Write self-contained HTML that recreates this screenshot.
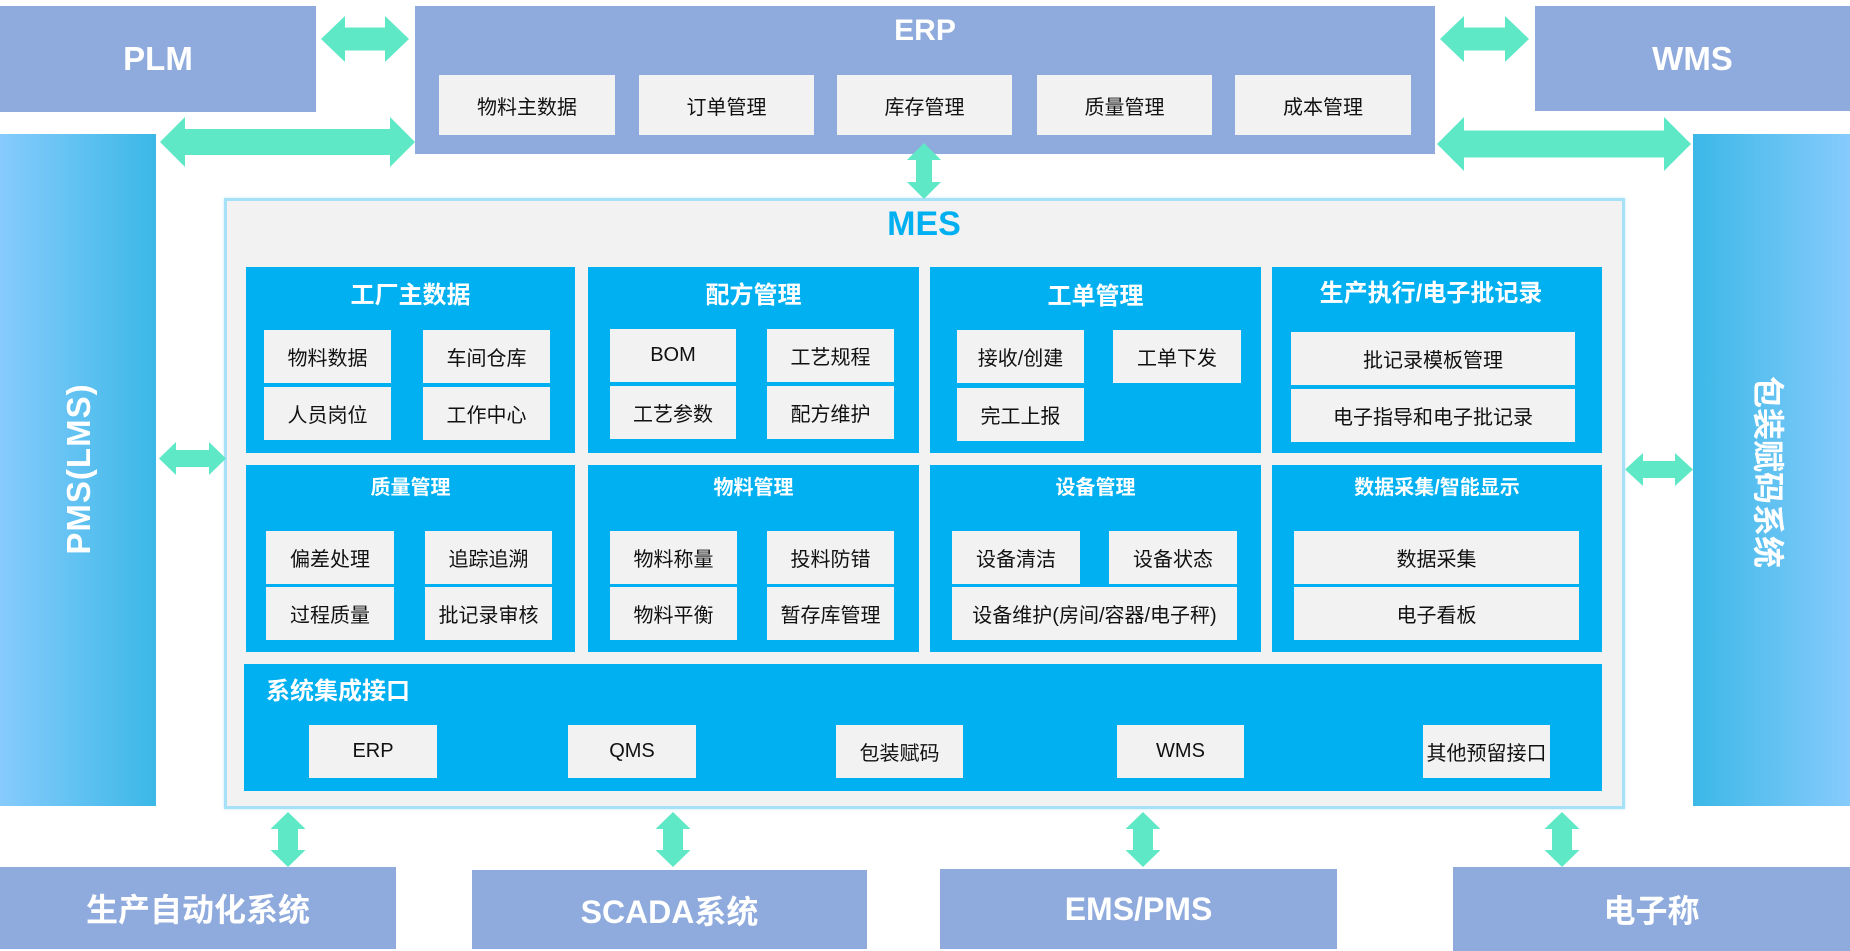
<!DOCTYPE html>
<html><head><meta charset="utf-8">
<style>
*{margin:0;padding:0;box-sizing:border-box;}
html,body{width:1850px;height:951px;background:#fff;overflow:hidden;}
body{position:relative;font-family:"Liberation Sans","Noto Sans CJK SC",sans-serif;}
.b{position:absolute;display:flex;align-items:center;justify-content:center;white-space:nowrap;}
.per{background:#8faadc;color:#fff;font-weight:700;}
.mod{background:#00b0f0;}
.s{background:#f2f2f2;color:#111;font-size:20px;}
.t1{position:absolute;color:#fff;font-weight:700;font-size:24px;text-align:center;white-space:nowrap;}
.t2{position:absolute;color:#fff;font-weight:700;font-size:20px;text-align:center;white-space:nowrap;}
</style></head><body>

<!-- top boxes -->
<div class="b per" style="left:0;top:6px;width:316px;height:106px;font-size:33px;">PLM</div>
<div class="b per" style="left:1535px;top:6px;width:315px;height:105px;font-size:33px;">WMS</div>
<div class="per" style="position:absolute;left:415px;top:6px;width:1020px;height:148px;"></div>
<div class="b" style="left:415px;top:11px;width:1020px;height:40px;color:#fff;font-weight:700;font-size:30px;">ERP</div>
<div class="b s" style="left:439px;top:75px;width:176px;height:60px;">物料主数据</div>
<div class="b s" style="left:639px;top:75px;width:175px;height:60px;">订单管理</div>
<div class="b s" style="left:837px;top:75px;width:175px;height:60px;">库存管理</div>
<div class="b s" style="left:1037px;top:75px;width:175px;height:60px;">质量管理</div>
<div class="b s" style="left:1235px;top:75px;width:176px;height:60px;">成本管理</div>

<!-- side bars -->
<div style="position:absolute;left:0;top:134px;width:156px;height:672px;background:linear-gradient(to right,#86cbfc,#3bb8e7);"></div>
<div style="position:absolute;left:1693px;top:134px;width:157px;height:672px;background:linear-gradient(to right,#3bb8e7,#86cbfc);"></div>
<div class="b" style="left:-71px;top:449px;width:300px;height:40px;transform:rotate(-90deg);color:#fff;font-weight:700;font-size:33px;letter-spacing:1px;">PMS(LMS)</div>
<div class="b" style="left:1620px;top:452px;width:300px;height:40px;transform:rotate(90deg);color:#fff;font-weight:700;font-size:32px;">包装赋码系统</div>

<!-- MES container -->
<div style="position:absolute;left:224px;top:198px;width:1401px;height:611px;background:#f2f2f2;border:3px solid #a6e1f8;box-shadow:0 0 3px #c4ecfb;"></div>
<div class="b" style="left:824px;top:204px;width:200px;height:40px;color:#00b0f0;font-weight:700;font-size:34px;">MES</div>

<!-- row 1 modules -->
<div class="mod" style="position:absolute;left:246px;top:267px;width:329px;height:186px;"></div>
<div class="mod" style="position:absolute;left:588px;top:267px;width:331px;height:186px;"></div>
<div class="mod" style="position:absolute;left:930px;top:267px;width:331px;height:186px;"></div>
<div class="mod" style="position:absolute;left:1272px;top:267px;width:330px;height:186px;"></div>
<div class="t1" style="left:246px;top:275px;width:329px;">工厂主数据</div>
<div class="t1" style="left:588px;top:275px;width:331px;">配方管理</div>
<div class="t1" style="left:930px;top:276px;width:331px;">工单管理</div>
<div class="t1" style="left:1272px;top:273px;width:318px;">生产执行/电子批记录</div>

<div class="b s" style="left:264px;top:330px;width:127px;height:53px;">物料数据</div>
<div class="b s" style="left:423px;top:330px;width:127px;height:53px;">车间仓库</div>
<div class="b s" style="left:264px;top:387px;width:127px;height:53px;">人员岗位</div>
<div class="b s" style="left:423px;top:387px;width:127px;height:53px;">工作中心</div>

<div class="b s" style="left:610px;top:329px;width:126px;height:53px;">BOM</div>
<div class="b s" style="left:767px;top:329px;width:127px;height:53px;">工艺规程</div>
<div class="b s" style="left:610px;top:386px;width:126px;height:53px;">工艺参数</div>
<div class="b s" style="left:767px;top:386px;width:127px;height:53px;">配方维护</div>

<div class="b s" style="left:957px;top:330px;width:127px;height:53px;">接收/创建</div>
<div class="b s" style="left:1113px;top:330px;width:128px;height:53px;">工单下发</div>
<div class="b s" style="left:957px;top:388px;width:127px;height:53px;">完工上报</div>

<div class="b s" style="left:1291px;top:332px;width:284px;height:53px;">批记录模板管理</div>
<div class="b s" style="left:1291px;top:389px;width:284px;height:53px;">电子指导和电子批记录</div>

<!-- row 2 modules -->
<div class="mod" style="position:absolute;left:246px;top:465px;width:329px;height:187px;"></div>
<div class="mod" style="position:absolute;left:588px;top:465px;width:331px;height:187px;"></div>
<div class="mod" style="position:absolute;left:930px;top:465px;width:331px;height:187px;"></div>
<div class="mod" style="position:absolute;left:1272px;top:465px;width:330px;height:187px;"></div>
<div class="t2" style="left:246px;top:471px;width:329px;">质量管理</div>
<div class="t2" style="left:588px;top:471px;width:331px;">物料管理</div>
<div class="t2" style="left:930px;top:471px;width:331px;">设备管理</div>
<div class="t2" style="left:1272px;top:471px;width:330px;">数据采集/智能显示</div>

<div class="b s" style="left:266px;top:531px;width:128px;height:53px;">偏差处理</div>
<div class="b s" style="left:425px;top:531px;width:127px;height:53px;">追踪追溯</div>
<div class="b s" style="left:266px;top:587px;width:128px;height:53px;">过程质量</div>
<div class="b s" style="left:425px;top:587px;width:127px;height:53px;">批记录审核</div>

<div class="b s" style="left:610px;top:531px;width:127px;height:53px;">物料称量</div>
<div class="b s" style="left:767px;top:531px;width:127px;height:53px;">投料防错</div>
<div class="b s" style="left:610px;top:587px;width:127px;height:53px;">物料平衡</div>
<div class="b s" style="left:767px;top:587px;width:127px;height:53px;">暂存库管理</div>

<div class="b s" style="left:952px;top:531px;width:128px;height:53px;">设备清洁</div>
<div class="b s" style="left:1109px;top:531px;width:128px;height:53px;">设备状态</div>
<div class="b s" style="left:952px;top:587px;width:285px;height:53px;">设备维护(房间/容器/电子秤)</div>

<div class="b s" style="left:1294px;top:531px;width:285px;height:53px;">数据采集</div>
<div class="b s" style="left:1294px;top:587px;width:285px;height:53px;">电子看板</div>

<!-- integration -->
<div class="mod" style="position:absolute;left:244px;top:664px;width:1358px;height:127px;"></div>
<div class="t1" style="left:266px;top:671px;text-align:left;">系统集成接口</div>
<div class="b s" style="left:309px;top:725px;width:128px;height:53px;">ERP</div>
<div class="b s" style="left:568px;top:725px;width:128px;height:53px;">QMS</div>
<div class="b s" style="left:836px;top:725px;width:127px;height:53px;">包装赋码</div>
<div class="b s" style="left:1117px;top:725px;width:127px;height:53px;">WMS</div>
<div class="b s" style="left:1423px;top:725px;width:127px;height:53px;">其他预留接口</div>

<!-- bottom boxes -->
<div class="b per" style="left:0;top:867px;width:396px;height:82px;font-size:32px;">生产自动化系统</div>
<div class="b per" style="left:472px;top:870px;width:395px;height:79px;font-size:32px;">SCADA系统</div>
<div class="b per" style="left:940px;top:869px;width:397px;height:80px;font-size:32px;">EMS/PMS</div>
<div class="b per" style="left:1453px;top:867px;width:397px;height:84px;font-size:32px;">电子称</div>

<!-- arrows -->
<svg style="position:absolute;left:0;top:0;" width="1850" height="951" viewBox="0 0 1850 951">
<g fill="#5ee8c6">
<polygon points="321,39 345,16 345,27.5 385,27.5 385,16 409,39 385,62 385,50.5 345,50.5 345,62"/>
<polygon points="160,142 185,117 185,129 390,129 390,117 415,142 390,167 390,155 185,155 185,167"/>
<polygon points="1440,39 1464,16 1464,27.5 1505,27.5 1505,16 1529,39 1505,62 1505,50.5 1464,50.5 1464,62"/>
<polygon points="1437,144 1464,117 1464,130.5 1664,130.5 1664,117 1691,144 1664,171 1664,157.5 1464,157.5 1464,171"/>
<polygon points="924,143 941,160 932,160 932,182 941,182 924,199 907,182 916,182 916,160 907,160"/>
<polygon points="159,458.5 176,442 176,450 209,450 209,442 226,458.5 209,475 209,467 176,467 176,475"/>
<polygon points="1625,469.5 1643,453 1643,461 1675,461 1675,453 1693,469.5 1675,486 1675,478 1643,478 1643,486"/>
<polygon points="288,812 305.5,829 298,829 298,850 305.5,850 288,867 270.5,850 278,850 278,829 270.5,829"/>
<polygon points="673,812 690.5,829 683,829 683,850 690.5,850 673,867 655.5,850 663,850 663,829 655.5,829"/>
<polygon points="1143,812 1160.5,829 1153,829 1153,850 1160.5,850 1143,867 1125.5,850 1133,850 1133,829 1125.5,829"/>
<polygon points="1562,812 1579.5,829 1572,829 1572,850 1579.5,850 1562,867 1544.5,850 1552,850 1552,829 1544.5,829"/>
</g>
</svg>
</body></html>
